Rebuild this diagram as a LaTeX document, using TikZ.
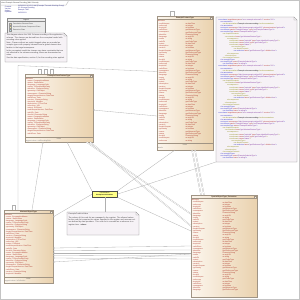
\documentclass[tikz,border=0pt]{standalone}
\usepackage{fontspec}
\setmainfont{Liberation Sans}
\usetikzlibrary{shadings,arrows.meta}
\definecolor{clsL}{HTML}{FCF6EE}
\definecolor{clsR}{HTML}{EAD2AE}
\definecolor{clsBd}{HTML}{A09484}
\definecolor{attr}{HTML}{B03A2E}
\definecolor{noteF}{HTML}{F6F2F6}
\definecolor{noteBd}{HTML}{8C888C}
\definecolor{enumF}{HTML}{FFFF88}
\definecolor{lnG}{HTML}{B0B0B0}
\definecolor{frameG}{HTML}{C4C4C4}
\definecolor{xb}{HTML}{2B2BC8}
\definecolor{xo}{HTML}{8A8A10}
\definecolor{xr}{HTML}{B02828}
\definecolor{xp}{HTML}{7A2A9A}
\definecolor{hdr}{HTML}{3C2814}
\definecolor{lgTan}{HTML}{E8D2AE}
\definecolor{lgYel}{HTML}{F2F29A}
\definecolor{lgBlu}{HTML}{BFE4EE}
\definecolor{infoB}{HTML}{2A2A8A}
\newcommand\XB[1]{\textcolor{xb}{#1}}
\newcommand\XO[1]{\textcolor{xo}{#1}}
\newcommand\XR[1]{\textcolor{xr}{#1}}
\newcommand\XP[1]{\textcolor{xp}{#1}}
\def\nmA{{"+ inspireId: Identifier","+ name: GeographicalName","+ beginLifespanVersion: DateTime","+ endLifespanVersion: DateTime","+ identifier: CharacterString","+ description: PTFreeText","+ status: StatusValue","+ validFrom: Date","+ validTo: Date","+ geometry: GMObject","+ reference: URI","+ language: LanguageCode","+ version: CharacterString","+ localId: CharacterString","+ namespace: CharacterString","+ extent: EXExtent","+ owner: CIResponsibleParty"}}
\def\nmS{{"+ inspireId","+ name","+ beginLifespan","+ endLifespan","+ identifier","+ description","+ status","+ validFrom","+ validTo","+ geometry","+ reference","+ language","+ version","+ localId","+ namespace","+ extent","+ owner"}}
\def\tpA{{"CharacterString","xs:string","xs:dateTime","xs:boolean","gml:ReferenceType","xs:anyURI","gml:CodeType","xs:integer","gml:MeasureType"}}
\tikzset{
  cls/.style={draw=clsBd, line width=0.35pt, left color=clsL, right color=clsR, anchor=north west, inner sep=0pt, outer sep=0pt},
  tinyf/.style={font=\fontsize{1.7}{2.1}\selectfont, inner sep=0pt, outer sep=0pt},
  atxt/.style={font=\fontsize{1.8}{2.1}\selectfont, inner sep=0pt, outer sep=0pt, text=attr, anchor=west},
  htxt/.style={font=\fontsize{1.8}{2}\selectfont\bfseries, text=hdr, inner sep=0pt},
  conn/.style={draw=lnG, line width=0.3pt},
  dconn/.style={draw=lnG, line width=0.25pt, double=white, double distance=0.6pt},
  notebody/.style={anchor=north west, inner sep=0pt, outer sep=0pt},
  notebox/.style={draw=noteBd, line width=0.35pt, fill=noteF},
  ntxt/.style={font=\fontsize{1.9}{2.35}\selectfont, inner sep=0pt, outer sep=0pt, text=black!75, anchor=north west, align=left},
  xtxt/.style={font=\fontsize{1.7}{2}\selectfont, inner sep=0pt, anchor=west},
  tipend/.style={-{Straight Barb[length=1.2pt,width=1.4pt]}},
}
\newcommand\crowsA[6]{%
  \foreach \i in {0,...,#5}{%
    \pgfmathsetmacro\yy{#3+\i*#4}%
    \pgfmathparse{\nmS[int(mod(\i*7+3,17))]}\let\nmx\pgfmathresult
    \pgfmathparse{\tpA[int(mod(\i*5+2,9))]}\let\tpx\pgfmathresult
    \node[atxt] (#1n\i) at (#2,\yy) {\nmx};
    \node[atxt] (#1t\i) at (#2+#6,\yy) {\tpx};
  }}
\newcommand\crowsB[5]{%
  \foreach \i in {0,...,#5}{%
    \pgfmathsetmacro\yy{#3+\i*#4}%
    \pgfmathparse{\nmA[int(mod(\i*5+1,17))]}\let\nmx\pgfmathresult
    \node[atxt] (#1n\i) at (#2,\yy) {\nmx};
  }}
\newcommand\clsdeco[2]{% node, title
  \draw[clsBd, line width=0.3pt] ([yshift=-3.6pt]#1.north west) -- ([yshift=-3.6pt]#1.north east);
  \node[htxt] (#1title) at ([yshift=-1.8pt]#1.north) {#2};
  \draw[clsBd, fill=white!70!clsR, line width=0.2pt] ([shift={(-3pt,-0.6pt)}]#1.north east) rectangle ([shift={(-0.6pt,-3pt)}]#1.north east);
  \node[tinyf, text=attr, anchor=west] (#1lab) at ([shift={(1pt,-5.2pt)}]#1.north west) {attributes};
}
\newcommand\notedraw[1]{%
  \draw[notebox] (#1.north west) -- ([xshift=-3pt]#1.north east) -- ([yshift=-3pt]#1.north east) -- (#1.south east) -- (#1.south west) -- cycle;
  \draw[noteBd, line width=0.3pt, fill=white] ([xshift=-3pt]#1.north east) -- ([shift={(-3pt,-3pt)}]#1.north east) -- ([yshift=-3pt]#1.north east) -- cycle;
}
\begin{document}
\begin{tikzpicture}[x=1pt,y=-1pt]
\useasboundingbox (0,0) rectangle (300,300);
\fill[white] (0,0) rectangle (300,300);
% frame and title tab
\draw[frameG, line width=0.5pt] (0.4,0.4) rectangle (299.6,299.6);
\node[notebody, minimum width=68pt, minimum height=5pt] (tab) at (0,0) {};
\draw[frameG, line width=0.5pt] (tab.south west) -- ([xshift=-2pt]tab.south east) -- ([yshift=-2pt]tab.north east) -- (tab.north east);
\node[tinyf, anchor=west, text=black!80] (tabtxt) at (1.5,2.6) {class Example Schema Encoding (XML Schema)};
% header info
\foreach \lab/\val [count=\k] in {Created:/{01/06/2012 10:15:23 AM (Example Thematic Working Group)}, Version:/{3.0 Schema Encoding}, Author:/{Example TWG}, Updated:/{14/02/2013}}{
  \node[tinyf, anchor=west, text=infoB] (hl\k) at (5,4.5+\k*2) {\lab};
  \node[tinyf, anchor=west, text=infoB] (hv\k) at (18,4.5+\k*2) {\val};
}
% legend
\node[notebody, draw=black!45, fill=black!8, line width=0.3pt, minimum width=38pt, minimum height=15pt] (leg) at (7,18) {};
\node[tinyf, text=black!80] (legt) at (26,20) {Legend};
\draw[black!45, line width=0.2pt] (7,21.5) -- (45,21.5);
\foreach \c/\t [count=\k] in {lgTan/Foundation Schema Class, lgYel/Imported Schema Component Class, lgBlu/Extension Class}{
  \node[draw=black!40, fill=\c, line width=0.2pt, minimum size=2pt, inner sep=0pt] (lgs\k) at (10.5,21.3+\k*3) {};
  \node[tinyf, anchor=west, text=black!75] (lgl\k) at (13,21.3+\k*3) {\t};
}
% note N0
\node[notebody, minimum width=62pt, minimum height=29pt] (N0) at (5,33) {};
\notedraw{N0}
\node[ntxt, text width=58pt] (N0t) at ([shift={(1.5pt,-1.5pt)}]N0.north west) {This diagram shows the XML Schema encoding of the application schema. The classes are derived from the conceptual model with encoding rules applied.\\[0.6pt]
Note: Classes without an explicit tagged value are encoded as complex types with property elements and a global element declaration in the target namespace.\\[0.6pt]
In the conceptual model the classes may have constraints that are not reflected in the schema encoding; these are documented as notes.\\[0.6pt]
See the data specification, section 9, for the encoding rules applied.};
% classes
\node[cls, minimum width=56pt, minimum height=134pt] (A) at (157,16) {};
\clsdeco{A}{ExampleFeatureType}
\crowsA{A}{158.5}{23.6}{2.25}{52}{27}
\draw[clsBd, line width=0.25pt] ([yshift=7pt]A.south west) -- ([yshift=7pt]A.south east);
\node[tinyf, text=black!60] (Aft) at ([yshift=4.8pt]A.south) {notes};
\node[tinyf, text=black!50, anchor=west] (Aft2) at ([shift={(1pt,1.8pt)}]A.south west) {details};

\node[cls, minimum width=68pt, minimum height=68pt] (B) at (25,74) {};
\clsdeco{B}{ExampleClassFeatureType}
\crowsB{B}{27}{81}{2.1}{25}
\draw[clsBd, line width=0.25pt] ([yshift=5pt]B.south west) -- ([yshift=5pt]B.south east);
\node[tinyf, text=black!60] (Bft) at ([yshift=3.3pt]B.south) {notes};
\node[tinyf, text=black!50, anchor=west] (Bft2) at ([shift={(1pt,1.3pt)}]B.south west) {tagged values: xsdEncodingRule};

\node[cls, minimum width=49pt, minimum height=73pt] (C) at (4,210) {};
\clsdeco{C}{AbstractObjectType}
\crowsB{C}{5.5}{217}{2.1}{27}
\draw[clsBd, line width=0.25pt] ([yshift=6pt]C.south west) -- ([yshift=6pt]C.south east);
\node[tinyf, text=black!60] (Cft) at ([yshift=4pt]C.south) {notes};
\node[tinyf, text=black!50, anchor=west] (Cft2) at ([shift={(1pt,1.5pt)}]C.south west) {tagged values: isCollection};

\node[cls, minimum width=66pt, minimum height=102pt] (D) at (191,195) {};
\clsdeco{D}{SpatialObjectType\_Extension}
\crowsA{D}{192.5}{202.5}{2.2}{40}{30}

% enum
\node[draw=black!70, fill=enumF, line width=0.35pt, minimum width=25pt, minimum height=6pt, anchor=north west, inner sep=0pt, align=center, font=\fontsize{1.5}{1.8}\selectfont] (E) at (92,191) {«enumeration»\\\textbf{ExampleCodeListValue}};

% note N1 (XML)
\node[notebody, minimum width=81pt, minimum height=145pt] (N1) at (216,17) {};
\notedraw{N1}
\foreach \k in {0,1,2}{
\foreach \ind/\txt [count=\j] in {
0/{\XB{<xs:schema} \XR{targetNamespace}=\XP{"urn:x-example:schema:3.0"} \XR{version}=\XP{"3.0"}\XB{>}},
1/{\XB{<xs:annotation>}},
2/{\XO{<xs:documentation>}Example schema encoding\XO{</xs:documentation>}},
1/{\XB{</xs:annotation>}},
1/{\XB{<xs:import} \XR{namespace}=\XP{"http://www.opengis.net/gml/3.2"} \XR{schemaLocation}=\XP{"gml.xsd"}\XB{/>}},
1/{\XB{<xs:element} \XR{name}=\XP{"ExampleFeature"} \XR{type}=\XP{"ex:ExampleFeatureType"}\XB{/>}},
1/{\XB{<xs:complexType} \XR{name}=\XP{"ExampleFeatureType"}\XB{>}},
2/{\XO{<xs:complexContent>}},
3/{\XO{<xs:extension} \XR{base}=\XP{"gml:AbstractFeatureType"}\XO{>}},
4/{\XO{<xs:sequence>}},
5/{\XO{<xs:element} \XR{name}=\XP{"inspireId"} \XR{type}=\XP{"base:IdentifierPropertyType"}\XO{/>}},
5/{\XO{<xs:element} \XR{name}=\XP{"name"} \XR{type}=\XP{"gml:CodeType"}\XO{/>}},
5/{\XO{<xs:element} \XR{name}=\XP{"status"}\XO{>}},
6/{\XO{<xs:complexType>}},
7/{\XO{<xs:simpleContent>}},
7/{\XB{<xs:extension} \XR{base}=\XP{"gml:ReferenceType"} \XR{nillable}=\XP{"true"}\XB{>}},
4/{\XO{</xs:sequence>}},
3/{\XO{</xs:extension>}},
2/{\XO{</xs:complexContent>}},
1/{\XB{</xs:complexType>}},
1/{\XB{<xs:simpleType} \XR{name}=\XP{"ExampleCodeListType"}\XB{>}},
2/{\XB{<xs:restriction} \XR{base}=\XP{"xs:string"}\XB{/>}}}{
  \pgfmathsetmacro\yy{19.6+(\k*22+\j-1)*2.13}
  \node[xtxt] (X\k-\j) at (218+\ind*2.2,\yy) {\txt};
}}

% note N2
\node[notebody, minimum width=72pt, minimum height=23pt] (N2) at (67,212) {};
\notedraw{N2}
\node[ntxt, text width=68pt] (N2t) at ([shift={(1.5pt,-1.5pt)}]N2.north west) {ExampleCodeListValue\\[0.8pt]
The values of this code list are managed in the register. The allowed values for the code list comprise the values specified in the register and narrower values defined by data providers. This code list is encoded as a reference to a register item. \textbf{values}};

% self loops
\draw[conn] (A.north -| 170,0) -- (170,11.5) -- (174,11.5) -- (A.north -| 174,0);
\foreach \x in {38,44,50}{\draw[conn] (B.north -| \x,0) -- (\x,69.6) -- (\x+3,69.6) -- (B.north -| \x+3,0);}
\draw[conn] (C.north -| 12,0) -- (12,205.6) -- (15,205.6) -- (C.north -| 15,0);

% connectors
\draw[conn] (C.north -| 18,0) -- (18,65.6) -- (A.west |- 0,71.5);
\draw[conn, tipend] (A.west |- 0,116) -- (B.east |- 0,110);
\draw[conn, tipend] (C.north -| 32,0) -- (B.south -| 43,0);
\draw[conn] (B.south -| 67,0) -- (E.north west);
\draw[dconn] (B.south -| 86.5,0) -- (D.west |- 0,214);
\draw[dconn] (B.south -| 90,0) -- (D.west |- 0,226);
\draw[conn] (A.south -| 175,0) -- (E.north east);
\draw[dconn] (A.south -| 192,0) -- (D.north -| 201,0);
\draw[dconn] (A.south -| 195,0) -- (D.north -| 204,0);
\draw[conn] (E.east) -- (N1.south west);
\draw[conn] (E.south east) -- (D.west |- 0,231);
\draw[conn, tipend] (E.west) -- (C.east |- 0,217);
\draw[conn] (E.south) -- (N2.north -| E.south);
\foreach \ya/\yb in {248/246, 250.5/250, 253/253, 255.5/256, 258/259, 262/254}{
  \draw[conn, tipend] (D.west |- 0,\yb) -- (C.east |- 0,\ya);
}
\end{tikzpicture}
\end{document}
